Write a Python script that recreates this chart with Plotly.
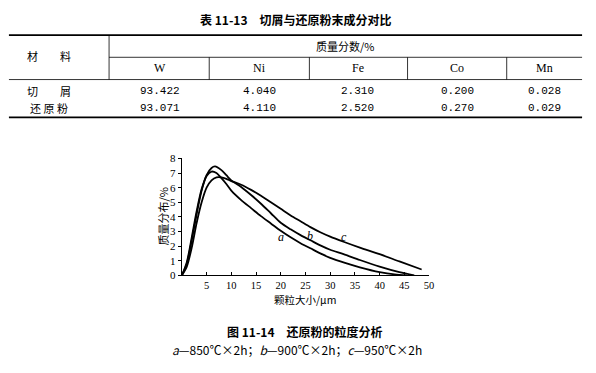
import plotly.graph_objects as go

# ---------------- data ----------------
table_title = "表 11-13　切屑与还原粉末成分对比"
elements = ["W", "Ni", "Fe", "Co", "Mn"]
materials = ["切　　屑", "还 原 粉"]
chips_values = ["93.422", "4.040", "2.310", "0.200", "0.028"]
powder_values = ["93.071", "4.110", "2.520", "0.270", "0.029"]

a_x = [0, 1, 2, 3, 4, 5, 6, 7, 8, 9, 10, 12, 14, 16, 18, 20, 22, 24, 26, 28, 30, 33, 36, 40, 43, 45.5]
a_y = [0, 0.9, 2.6, 4.4, 5.9, 6.8, 7.1, 7.0, 6.65, 6.25, 5.8, 5.15, 4.6, 4.05, 3.55, 3.05, 2.6, 2.2, 1.85, 1.5, 1.2, 0.85, 0.55, 0.22, 0.06, 0]

b_x = [0, 1, 2, 3, 4, 5, 6, 6.7, 8, 9, 10, 12, 14, 16, 18, 20, 22, 24, 26, 28, 30, 32.7, 36, 40, 44, 47]
b_y = [0, 0.8, 2.4, 4.2, 5.8, 6.85, 7.35, 7.45, 7.2, 6.85, 6.5, 6.05, 5.5, 4.9, 4.25, 3.6, 3.15, 2.75, 2.4, 2.05, 1.75, 1.45, 1.05, 0.6, 0.22, 0]

c_x = [0, 1, 2, 3, 4, 5, 6, 7, 8, 9, 10, 12, 14, 16, 18, 20, 22, 24, 26, 28, 30, 32.7, 36, 40, 44, 48.5]
c_y = [0, 0.6, 1.9, 3.6, 5.0, 6.0, 6.5, 6.7, 6.7, 6.6, 6.45, 6.2, 5.85, 5.45, 5.0, 4.55, 4.1, 3.7, 3.3, 2.95, 2.65, 2.3, 1.9, 1.45, 0.95, 0.4]

curve_labels = ["a", "b", "c"]
label_x = [20.0, 26.0, 32.7]
label_y = [2.6, 2.72, 2.65]

x_ticks = [5, 10, 15, 20, 25, 30, 35, 40, 45, 50]
y_ticks = [0, 1, 2, 3, 4, 5, 6, 7, 8]
x_title = "颗粒大小/μm"
y_title = "质量分布/%"
fig_title = "图 11-14　还原粉的粒度分析"
fig_caption = "<i>a</i>—850℃×2h；<i>b</i>—900℃×2h；<i>c</i>—950℃×2h"

# ---------------- layout helpers ----------------
W, H = 596, 373
def px(x):
    return x / W
def py(y):
    return 1 - y / H

CJK = "Noto Sans CJK SC"
SERIF = "Liberation Serif"
MONO = "Liberation Mono"

fig = go.Figure()
for xs, ys in [(a_x, a_y), (b_x, b_y), (c_x, c_y)]:
    fig.add_trace(go.Scatter(x=xs, y=ys, mode="lines",
                             line=dict(color="black", width=1.8, shape="spline", smoothing=0.8),
                             showlegend=False, hoverinfo="skip"))

annotations = []
def note(x, y, text, family, size, **kw):
    d = dict(x=px(x), y=py(y), xref="paper", yref="paper", text=text, showarrow=False,
             xanchor="center", yanchor="middle", font=dict(family=family, size=size, color="black"))
    d.update(kw)
    annotations.append(d)

for t, lx, ly in zip(curve_labels, label_x, label_y):
    annotations.append(dict(x=lx, y=ly, xref="x", yref="y", text=f"<i>{t}</i>", showarrow=False,
                            xanchor="center", yanchor="middle",
                            font=dict(family=SERIF, size=12, color="black")))

# table
note(298, 14, f"<b>{table_title}</b>", CJK, 12)
note(49, 52, "材　　料", CJK, 11)
note(348, 41, "质量分数/%", CJK, 11)
col_centers = [161, 262, 361, 461, 549]
for cx, el in zip(col_centers, elements):
    note(cx, 64, el, SERIF, 12)
row_y = [88, 105]
for ry, mat, vals in zip(row_y, materials, [chips_values, powder_values]):
    note(49, ry, mat, CJK, 11)
    for cx, v in zip(col_centers, vals):
        note(cx, ry, v, MONO, 11)

# chart titles
note(308, 303, x_title, CJK, 10.5)
note(164, 218, y_title, CJK, 11, textangle=-90)
note(308, 336, f"<b>{fig_title}</b>", CJK, 12)
note(300, 355, fig_caption, CJK, 12)

shapes = []
def hline(y, x0, x1, w):
    shapes.append(dict(type="line", xref="paper", yref="paper", x0=px(x0), x1=px(x1), y0=py(y), y1=py(y),
                       line=dict(color="black", width=w)))
def vline(x, y0, y1, w):
    shapes.append(dict(type="line", xref="paper", yref="paper", x0=px(x), x1=px(x), y0=py(y0), y1=py(y1),
                       line=dict(color="black", width=w)))
hline(30, 9, 587, 1.8)
hline(53, 110, 587, 0.8)
hline(76, 9, 587, 0.8)
hline(115, 9, 587, 1.8)
vline(110, 30, 76, 0.8)
for dx in [211, 312, 411, 511]:
    vline(dx, 53, 76, 0.8)

fig.update_layout(
    width=W, height=H, margin=dict(l=0, r=0, t=0, b=0),
    paper_bgcolor="white", plot_bgcolor="white",
    showlegend=False,
    annotations=annotations, shapes=shapes,
    xaxis=dict(domain=[px(183.4), px(432.7)], range=[0, 50], tickvals=x_ticks,
               showgrid=False, zeroline=False, showline=True, linecolor="black", linewidth=1.2,
               ticks="inside", ticklen=3, tickcolor="black",
               tickfont=dict(family=SERIF, size=10.5, color="black")),
    yaxis=dict(domain=[py(278.3), py(157.5)], range=[0, 8], tickvals=y_ticks,
               showgrid=False, zeroline=False, showline=True, linecolor="black", linewidth=1.2,
               ticks="outside", ticklen=3, tickcolor="black",
               tickfont=dict(family=SERIF, size=11, color="black")),
)

fig.write_html("out.html", config={"displayModeBar": False},
               post_script="document.body.style.margin='0';document.body.style.padding='0';")
